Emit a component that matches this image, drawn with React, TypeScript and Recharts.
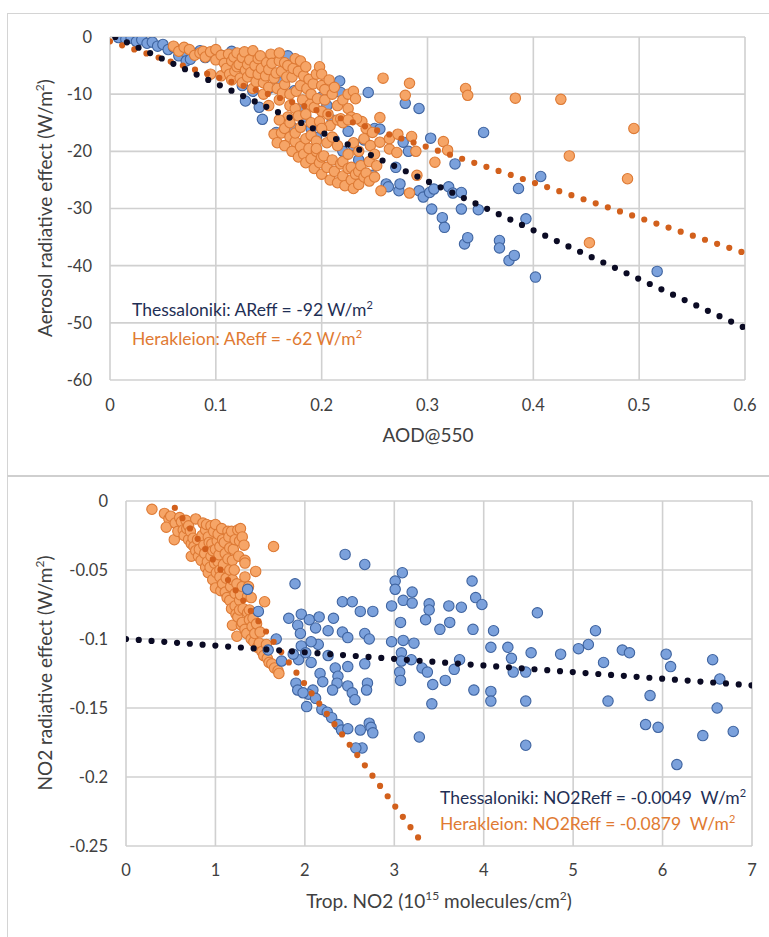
import React from 'react';
import { ScatterChart, Scatter, XAxis, YAxis, CartesianGrid } from 'recharts';

const FONT = "Lato, 'Open Sans', 'DejaVu Sans', sans-serif";

// ---------- Top panel: AOD@550 vs aerosol radiative effect ----------
const aodTicks = [0, 0.1, 0.2, 0.3, 0.4, 0.5, 0.6];
const areTicks = [-60, -50, -40, -30, -20, -10, 0];

const aodThessaloniki: [number, number][] = [
  [0.008, -0.1], [0.015, -0.4], [0.02, -0.2], [0.025, -0.8], [0.03, -0.5], [0.035, -1.1], [0.04, -0.9],
  [0.045, -1.6], [0.05, -1.3], [0.055, -2.2], [0.06, -1.8], [0.065, -3.3], [0.07, -2.5], [0.072, -4.2],
  [0.076, -3.9], [0.08, -3.0], [0.085, -2.4], [0.09, -3.6], [0.097, -2.7], [0.105, -3.2], [0.11, -4.5],
  [0.115, -2.5], [0.12, -6.0], [0.125, -8.5], [0.128, -11.2], [0.135, -9.5], [0.141, -12.3], [0.144, -14.4],
  [0.15, -9.0], [0.157, -16.7], [0.16, -8.0], [0.168, -3.3], [0.172, -15.8], [0.174, -9.4], [0.18, -12.5],
  [0.185, -14.0], [0.19, -16.0], [0.195, -17.6], [0.2, -10.5], [0.205, -12.0], [0.21, -14.5], [0.212, -18.0],
  [0.217, -7.7], [0.218, -9.7], [0.22, -20.0], [0.225, -16.5], [0.23, -19.0], [0.235, -21.5], [0.24, -18.0],
  [0.244, -9.7], [0.248, -24.2], [0.25, -16.0], [0.255, -16.1], [0.261, -25.7], [0.263, -26.2], [0.27, -22.8],
  [0.273, -26.9], [0.274, -25.7], [0.277, -18.4], [0.279, -11.6], [0.282, -20.0], [0.292, -12.5],
  [0.292, -26.9], [0.296, -28.0], [0.302, -27.2], [0.303, -17.7], [0.304, -30.1], [0.306, -26.6],
  [0.314, -31.6], [0.316, -33.3], [0.32, -26.2], [0.324, -27.3], [0.326, -22.2], [0.332, -27.2],
  [0.332, -30.1], [0.335, -36.2], [0.338, -35.1], [0.348, -30.2], [0.353, -16.7], [0.368, -35.6],
  [0.368, -36.9], [0.377, -39.1], [0.382, -38.2], [0.386, -26.5], [0.393, -31.8], [0.402, -42.0],
  [0.407, -24.4], [0.517, -41.0],
];

const aodHerakleion: [number, number][] = [
  [0.06, -1.6], [0.065, -2.5], [0.07, -1.8], [0.075, -2.2], [0.08, -3.2], [0.085, -2.8], [0.088, -2.5],
  [0.09, -3.5], [0.095, -2.6], [0.095, -6.5], [0.1, -4.0], [0.1, -2.2], [0.105, -3.2], [0.105, -6.8],
  [0.108, -4.6], [0.11, -5.5], [0.112, -3.0], [0.113, -6.5], [0.115, -4.2], [0.115, -7.5], [0.117, -3.5],
  [0.118, -6.0], [0.12, -2.8], [0.12, -5.2], [0.122, -4.8], [0.123, -7.2], [0.125, -3.6], [0.125, -8.0],
  [0.127, -2.6], [0.128, -5.8], [0.13, -7.0], [0.13, -4.8], [0.132, -4.0], [0.133, -6.2], [0.135, -2.4],
  [0.135, -9.0], [0.137, -5.0], [0.138, -7.8], [0.14, -6.5], [0.14, -3.8], [0.142, -3.3], [0.143, -5.5],
  [0.145, -8.0], [0.145, -10.0], [0.147, -6.8], [0.148, -4.5], [0.15, -5.7], [0.15, -12.0], [0.15, -8.8],
  [0.152, -3.0], [0.153, -4.6], [0.155, -7.2], [0.157, -6.3], [0.158, -9.0], [0.16, -4.2], [0.16, -11.0],
  [0.16, -2.8], [0.162, -6.0], [0.163, -9.8], [0.165, -8.3], [0.165, -4.5], [0.167, -7.0], [0.168, -5.0],
  [0.168, -14.0], [0.17, -10.0], [0.17, -12.0], [0.172, -7.0], [0.173, -5.5], [0.175, -3.8], [0.175, -12.5],
  [0.176, -9.5], [0.178, -6.0], [0.178, -13.8], [0.18, -8.5], [0.18, -4.2], [0.182, -11.0], [0.183, -6.8],
  [0.185, -5.2], [0.185, -13.5], [0.186, -9.0], [0.188, -7.4], [0.189, -11.8], [0.19, -10.0], [0.19, -15.0],
  [0.192, -8.2], [0.193, -12.3], [0.195, -6.5], [0.196, -10.8], [0.198, -5.2], [0.198, -14.8], [0.2, -8.5],
  [0.2, -13.0], [0.2, -6.5], [0.203, -11.0], [0.203, -9.2], [0.206, -13.5], [0.207, -7.5], [0.208, -15.5],
  [0.21, -10.0], [0.212, -8.8], [0.215, -12.0], [0.215, -14.5], [0.218, -14.3], [0.22, -15.0], [0.22, -11.0],
  [0.225, -10.0], [0.225, -12.5], [0.228, -14.0], [0.23, -9.5], [0.232, -10.8], [0.238, -14.8], [0.242, -16.0],
  [0.155, -17.0], [0.158, -18.5], [0.16, -14.5], [0.162, -16.8], [0.165, -19.0], [0.165, -16.0],
  [0.17, -17.5], [0.17, -15.0], [0.172, -20.0], [0.175, -18.3], [0.175, -16.8], [0.178, -21.0],
  [0.18, -19.2], [0.18, -15.8], [0.183, -20.5], [0.185, -22.0], [0.185, -17.8], [0.188, -19.5],
  [0.19, -21.3], [0.19, -17.2], [0.193, -23.0], [0.195, -20.0], [0.195, -18.2], [0.195, -19.5],
  [0.198, -22.0], [0.2, -24.0], [0.2, -16.0], [0.2, -21.0], [0.202, -20.8], [0.205, -22.8], [0.205, -18.5],
  [0.208, -25.0], [0.21, -21.5], [0.21, -17.5], [0.212, -23.5], [0.215, -25.5], [0.215, -19.0],
  [0.218, -22.2], [0.22, -24.3], [0.22, -21.8], [0.222, -26.0], [0.225, -23.0], [0.225, -20.5],
  [0.228, -25.0], [0.228, -22.8], [0.23, -26.5], [0.23, -18.5], [0.232, -24.0], [0.235, -25.8],
  [0.235, -20.0], [0.235, -23.5], [0.237, -22.5], [0.24, -24.5], [0.24, -17.8], [0.242, -23.8],
  [0.245, -25.2], [0.245, -21.8], [0.246, -19.0], [0.25, -20.5], [0.25, -24.5], [0.252, -22.5],
  [0.233, -14.3], [0.225, -14.5], [0.248, -16.7], [0.255, -14.1], [0.255, -18.4], [0.256, -26.9],
  [0.258, -7.2], [0.264, -17.8], [0.264, -19.6], [0.271, -20.2], [0.272, -17.0], [0.279, -10.2],
  [0.283, -8.1], [0.283, -27.3], [0.285, -17.4], [0.289, -20.0], [0.29, -24.2], [0.307, -21.9],
  [0.315, -18.3], [0.319, -19.8], [0.336, -9.0], [0.338, -10.2], [0.383, -10.7], [0.426, -10.9],
  [0.434, -20.8], [0.453, -36.0], [0.489, -24.8], [0.495, -16.0],
];

// linear trend lines (end points)
const aodTrendThessaloniki: [number, number][] = [[0.005, 0], [0.6, -50.9]];
const aodTrendHerakleion: [number, number][] = [[0, -0.75], [0.6, -37.8]];

// ---------- Bottom panel: tropospheric NO2 vs NO2 radiative effect ----------
const no2Ticks = [0, 1, 2, 3, 4, 5, 6, 7];
const nreTicks = [-0.25, -0.2, -0.15, -0.1, -0.05, 0];

const no2Thessaloniki: [number, number][] = [
  [2.45, -0.0387], [2.67, -0.046], [1.89, -0.06], [3.09, -0.052], [3.01, -0.058], [3.01, -0.064],
  [3.2, -0.066], [3.87, -0.058], [3.91, -0.07], [3.98, -0.075], [3.1, -0.072], [3.2, -0.074],
  [2.97, -0.076], [3.39, -0.0745], [3.39, -0.079], [3.61, -0.076], [3.75, -0.077], [2.42, -0.073],
  [2.53, -0.073], [2.62, -0.08], [2.76, -0.08], [4.6, -0.081], [1.82, -0.085], [1.96, -0.082],
  [2.05, -0.086], [2.16, -0.084], [2.32, -0.085], [1.92, -0.09], [2.12, -0.092], [2.26, -0.094],
  [2.42, -0.095], [3.07, -0.088], [3.35, -0.086], [3.51, -0.093], [3.62, -0.088], [3.88, -0.093],
  [4.11, -0.094], [5.25, -0.094], [1.95, -0.096], [2.48, -0.099], [2.67, -0.096], [2.72, -0.1],
  [2.97, -0.102], [3.1, -0.101], [3.22, -0.103], [5.17, -0.104], [5.06, -0.107], [4.08, -0.106],
  [4.27, -0.106], [4.53, -0.11], [4.86, -0.111], [5.55, -0.108], [5.63, -0.11], [6.04, -0.111],
  [6.56, -0.115], [6.09, -0.12], [5.34, -0.117], [4.31, -0.114], [3.73, -0.115], [3.67, -0.122],
  [3.08, -0.11], [3.08, -0.116], [3.19, -0.115], [3.31, -0.121], [3.37, -0.124], [3.06, -0.124],
  [3.07, -0.13], [2.67, -0.118], [2.48, -0.12], [2.34, -0.121], [2.37, -0.127], [2.36, -0.132],
  [2.31, -0.137], [2.48, -0.134], [2.53, -0.139], [2.56, -0.144], [2.7, -0.132], [2.69, -0.137],
  [2.17, -0.125], [2.2, -0.131], [2.09, -0.137], [2.04, -0.14], [2.02, -0.149], [2.12, -0.143],
  [2.19, -0.151], [2.25, -0.153], [2.3, -0.157], [2.37, -0.162], [1.93, -0.115], [1.87, -0.111],
  [1.96, -0.105], [2.01, -0.11], [2.07, -0.117], [1.9, -0.132], [1.92, -0.137], [1.98, -0.139],
  [2.15, -0.104], [2.26, -0.112], [2.07, -0.102], [1.74, -0.116], [1.68, -0.1], [1.59, -0.108],
  [1.48, -0.08], [1.36, -0.064], [2.41, -0.166], [2.48, -0.165], [2.62, -0.166], [2.72, -0.161],
  [2.74, -0.164], [2.76, -0.168], [2.64, -0.179], [2.57, -0.179], [3.28, -0.171], [3.43, -0.133],
  [3.42, -0.147], [3.57, -0.13], [3.89, -0.137], [4.08, -0.138], [4.08, -0.145], [4.47, -0.124],
  [4.47, -0.145], [4.47, -0.177], [4.33, -0.124], [5.39, -0.145], [5.86, -0.141], [5.81, -0.162],
  [5.95, -0.164], [6.16, -0.191], [6.45, -0.17], [6.61, -0.15], [6.64, -0.129], [6.79, -0.167],
];

const no2Herakleion: [number, number][] = [
  [0.29, -0.006], [0.43, -0.009], [0.48, -0.013], [0.45, -0.019], [0.5, -0.011], [0.54, -0.028],
  [0.55, -0.016], [0.58, -0.022], [0.6, -0.012], [0.62, -0.015], [0.64, -0.021], [0.65, -0.025],
  [0.67, -0.014], [0.68, -0.02], [0.7, -0.018], [0.7, -0.028], [0.72, -0.022], [0.73, -0.031],
  [0.73, -0.04], [0.75, -0.027], [0.76, -0.033], [0.78, -0.036], [0.78, -0.013], [0.8, -0.028],
  [0.81, -0.04], [0.82, -0.035], [0.84, -0.043], [0.85, -0.025], [0.86, -0.016], [0.87, -0.032],
  [0.88, -0.038], [0.89, -0.021], [0.89, -0.048], [0.9, -0.017], [0.91, -0.044], [0.92, -0.026],
  [0.92, -0.052], [0.93, -0.03], [0.94, -0.048], [0.95, -0.018], [0.95, -0.04], [0.96, -0.031],
  [0.97, -0.036], [0.97, -0.057], [0.98, -0.022], [0.99, -0.045], [1.0, -0.063], [1.0, -0.035],
  [1.0, -0.017], [1.01, -0.052], [1.02, -0.029], [1.03, -0.044], [1.03, -0.024], [1.04, -0.039],
  [1.05, -0.05], [1.05, -0.055], [1.05, -0.033], [1.06, -0.065], [1.07, -0.02], [1.08, -0.06],
  [1.08, -0.028], [1.09, -0.046], [1.1, -0.03], [1.11, -0.066], [1.11, -0.038], [1.12, -0.056],
  [1.13, -0.07], [1.14, -0.022], [1.14, -0.042], [1.15, -0.026], [1.16, -0.034], [1.16, -0.05],
  [1.16, -0.072], [1.17, -0.062], [1.18, -0.078], [1.18, -0.022], [1.19, -0.043], [1.19, -0.057],
  [1.19, -0.09], [1.2, -0.035], [1.21, -0.05], [1.22, -0.028], [1.22, -0.067], [1.22, -0.076],
  [1.23, -0.082], [1.24, -0.06], [1.24, -0.098], [1.25, -0.021], [1.25, -0.084], [1.26, -0.04],
  [1.27, -0.029], [1.27, -0.072], [1.27, -0.079], [1.28, -0.068], [1.28, -0.02], [1.29, -0.09],
  [1.3, -0.026], [1.3, -0.062], [1.3, -0.088], [1.31, -0.078], [1.32, -0.032], [1.33, -0.043],
  [1.33, -0.055], [1.33, -0.093], [1.33, -0.045], [1.35, -0.096], [1.36, -0.069], [1.36, -0.081],
  [1.37, -0.062], [1.38, -0.079], [1.38, -0.086], [1.4, -0.1], [1.4, -0.07], [1.41, -0.091],
  [1.42, -0.085], [1.43, -0.102], [1.44, -0.096], [1.45, -0.051], [1.46, -0.089], [1.47, -0.106],
  [1.49, -0.103], [1.5, -0.095], [1.52, -0.109], [1.54, -0.112], [1.55, -0.073], [1.57, -0.104],
  [1.58, -0.114], [1.6, -0.117], [1.63, -0.118], [1.65, -0.033], [1.66, -0.121], [1.7, -0.123],
  [1.71, -0.125],
];

const no2TrendThessaloniki: [number, number][] = [[0, -0.1], [7, -0.1336]];
const no2TrendHerakleion: [number, number][] = [[0.546, -0.005], [3.3, -0.2468]];

// ---------- helpers ----------
const toPts = (arr: [number, number][]) => arr.map(([x, y]) => ({ x, y }));

const BLUE_FILL = '#7BA1DC';
const BLUE_EDGE = '#3F64A0';
const ORANGE_FILL = '#F6A567';
const ORANGE_EDGE = '#DD7A35';
const TREND_DARK = '#0B0B24';
const TREND_ORANGE = '#D2601C';
const GRID = '#D0D0D0';
const TEXT = '#404040';

const blueDot = (p: any) => (
  <circle cx={p.cx} cy={p.cy} r={5.2} fill={BLUE_FILL} stroke={BLUE_EDGE} strokeWidth={1.1} />
);
const orangeDot = (p: any) => (
  <circle cx={p.cx} cy={p.cy} r={5.2} fill={ORANGE_FILL} stroke={ORANGE_EDGE} strokeWidth={1.1} />
);
const noShape = () => <g />;

const dotted = (color: string) => ({
  stroke: color,
  strokeWidth: 6.2,
  strokeDasharray: '0 12.8',
  strokeLinecap: 'round' as const,
  fill: 'none',
});

const tickStyle = { fill: TEXT, fontSize: 16.5, fontFamily: FONT };

const abs = (left: number, top: number, extra: React.CSSProperties = {}): React.CSSProperties => ({
  position: 'absolute',
  left,
  top,
  fontFamily: FONT,
  whiteSpace: 'nowrap',
  lineHeight: 1,
  ...extra,
});

export default function App() {
  return (
    <div style={{ position: 'absolute', left: 0, top: 0, width: 769, height: 937, background: '#fff', overflow: 'hidden' }}>
      {/* panel frames */}
      <div style={{ position: 'absolute', left: 7, top: 13, width: 770, height: 463, borderLeft: '1.5px solid #d4d4d4', borderTop: '1.5px solid #d4d4d4' }} />
      <div style={{ position: 'absolute', left: 7, top: 475, width: 770, height: 470, borderLeft: '1.5px solid #d4d4d4', borderTop: '2px solid #cfcfcf' }} />

      {/* Top chart */}
      <div style={{ position: 'absolute', left: 0, top: 0 }}>
        <ScatterChart width={769} height={477} margin={{ top: 37, right: 24, bottom: 0, left: 0 }}>
          <CartesianGrid stroke={GRID} strokeWidth={1.6} />
          <XAxis
            type="number"
            dataKey="x"
            domain={[0, 0.6]}
            ticks={aodTicks}
            allowDataOverflow
            axisLine={false}
            tickLine={false}
            tickSize={0}
            tickMargin={19}
            height={97}
            tick={tickStyle}
          />
          <YAxis
            type="number"
            dataKey="y"
            domain={[-60, 0]}
            ticks={areTicks}
            allowDataOverflow
            axisLine={false}
            tickLine={false}
            tickSize={0}
            tickMargin={18}
            width={110}
            tick={tickStyle}
          />
          <Scatter data={toPts(aodThessaloniki)} shape={blueDot} isAnimationActive={false} />
          <Scatter data={toPts(aodHerakleion)} shape={orangeDot} isAnimationActive={false} />
          <Scatter data={toPts(aodTrendHerakleion)} shape={noShape} line={dotted(TREND_ORANGE)} isAnimationActive={false} />
          <Scatter data={toPts(aodTrendThessaloniki)} shape={noShape} line={dotted(TREND_DARK)} isAnimationActive={false} />
        </ScatterChart>
      </div>

      {/* Bottom chart */}
      <div style={{ position: 'absolute', left: 0, top: 477 }}>
        <ScatterChart width={769} height={460} margin={{ top: 24, right: 17, bottom: 0, left: 0 }}>
          <CartesianGrid stroke={GRID} strokeWidth={1.6} />
          <XAxis
            type="number"
            dataKey="x"
            domain={[0, 7]}
            ticks={no2Ticks}
            allowDataOverflow
            axisLine={false}
            tickLine={false}
            tickSize={0}
            tickMargin={18}
            height={91}
            tick={tickStyle}
          />
          <YAxis
            type="number"
            dataKey="y"
            domain={[-0.25, 0]}
            ticks={nreTicks}
            allowDataOverflow
            axisLine={false}
            tickLine={false}
            tickSize={0}
            tickMargin={18}
            width={126}
            tick={tickStyle}
          />
          <Scatter data={toPts(no2Herakleion)} shape={orangeDot} isAnimationActive={false} />
          <Scatter data={toPts(no2Thessaloniki)} shape={blueDot} isAnimationActive={false} />
          <Scatter data={toPts(no2TrendHerakleion)} shape={noShape} line={dotted(TREND_ORANGE)} isAnimationActive={false} />
          <Scatter data={toPts(no2TrendThessaloniki)} shape={noShape} line={dotted(TREND_DARK)} isAnimationActive={false} />
        </ScatterChart>
      </div>

      {/* Top titles */}
      <div style={abs(428, 434, { transform: 'translate(-50%,-50%)', fontSize: 19, color: TEXT })}>AOD@550</div>
      <div style={abs(44, 208, { transform: 'translate(-50%,-50%) rotate(-90deg)', fontSize: 19, color: TEXT })}>
        Aerosol radiative effect (W/m<sup style={{ fontSize: 12 }}>2</sup>)
      </div>
      <div style={abs(132, 299, { fontSize: 17.5, color: '#1F2F55' })}>
        Thessaloniki: AReff = -92 W/m<sup style={{ fontSize: 11 }}>2</sup>
      </div>
      <div style={abs(132, 328, { fontSize: 17.5, color: '#E07A32' })}>
        Herakleion: AReff = -62 W/m<sup style={{ fontSize: 11 }}>2</sup>
      </div>

      {/* Bottom titles */}
      <div style={abs(439, 900, { transform: 'translate(-50%,-50%)', fontSize: 19, color: TEXT })}>
        Trop. NO2 (10<sup style={{ fontSize: 12 }}>15</sup> molecules/cm<sup style={{ fontSize: 12 }}>2</sup>)
      </div>
      <div style={abs(44, 673, { transform: 'translate(-50%,-50%) rotate(-90deg)', fontSize: 19, color: TEXT })}>
        NO2 radiative effect (W/m<sup style={{ fontSize: 12 }}>2</sup>)
      </div>
      <div style={abs(440, 787, { fontSize: 17.5, color: '#1F2F55' })}>
        Thessaloniki: NO2Reff = -0.0049&nbsp; W/m<sup style={{ fontSize: 11 }}>2</sup>
      </div>
      <div style={abs(440, 813, { fontSize: 17.5, color: '#E07A32' })}>
        Herakleion: NO2Reff = -0.0879&nbsp; W/m<sup style={{ fontSize: 11 }}>2</sup>
      </div>
    </div>
  );
}
